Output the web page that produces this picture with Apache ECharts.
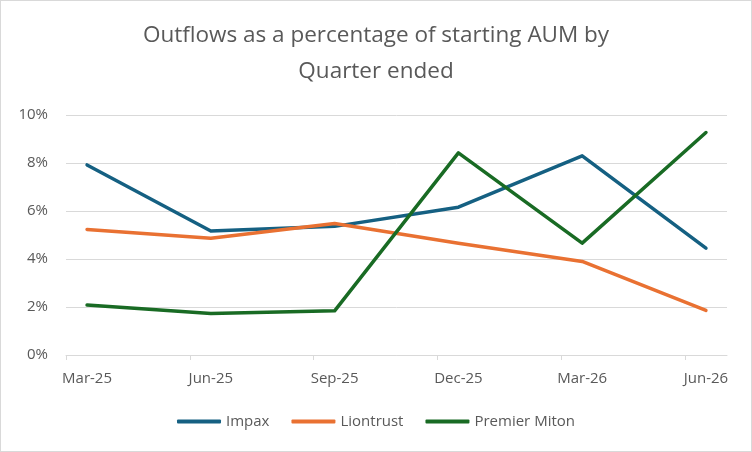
<!DOCTYPE html>
<html lang="en">

<head>
    <meta charset="utf-8">
    <title>Outflows as a percentage of starting AUM</title>
    <script type="text/javascript" src="https://cdn.jsdelivr.net/npm/echarts@6/dist/echarts.min.js"></script>
    <style>
        html, body { margin: 0; padding: 0; background: #fff; }
        #chart-container {
            width: 752px;
            height: 452px;
            box-sizing: border-box;
            border: 1px solid #d9d9d9;
        }
    </style>
</head>

<body>
    <div id="chart-container"></div>

    <script>
        // quarter labels and values (percent)
        const quarters = ['Mar-25', 'Jun-25', 'Sep-25', 'Dec-25', 'Mar-26', 'Jun-26'];
        const impax = [7.92, 5.17, 5.36, 6.16, 8.3, 4.45];
        const liontrust = [5.23, 4.86, 5.48, 4.66, 3.9, 1.86];
        const premierMiton = [2.08, 1.73, 1.84, 8.42, 4.66, 9.27];
        const yTicks = [0, 2, 4, 6, 8, 10];

        const Chart = echarts.init(document.getElementById('chart-container'));
        const font = '"Open Sans", "Noto Sans", sans-serif';
        const grey = '#595959';
        const gridGrey = '#d9d9d9';

        function toPoints(values) {
            return values.map(function (v, i) { return [i, v]; });
        }

        function lineSeries(name, values, color) {
            return {
                name: name,
                type: 'line',
                data: toPoints(values),
                symbol: 'none',
                lineStyle: { width: 3.5, color: color, cap: 'round', join: 'round' },
                itemStyle: { color: color }
            };
        }

        let option = {
            textStyle: { fontFamily: font },
            title: {
                text: 'Outflows as a percentage of starting AUM by\nQuarter ended',
                left: 'center',
                top: 12,
                textStyle: { fontSize: 22.5, fontWeight: 'normal', color: grey, lineHeight: 36, fontFamily: font }
            },
            grid: { left: 65, right: 24, top: 114, bottom: 96 },
            xAxis: {
                type: 'value',
                min: -0.17,
                max: 5.17,
                splitLine: { show: false },
                axisLine: { show: true, lineStyle: { color: gridGrey, width: 1 } },
                axisTick: {
                    show: true,
                    length: 5,
                    lineStyle: { color: gridGrey },
                    customValues: quarters.map(function (q, i) { return i - 0.17; })
                },
                axisLabel: {
                    color: grey,
                    fontSize: 15,
                    margin: 16,
                    customValues: quarters.map(function (q, i) { return i; }),
                    formatter: function (v) { return quarters[Math.round(v)]; }
                }
            },
            yAxis: {
                type: 'value',
                min: yTicks[0],
                max: yTicks[yTicks.length - 1],
                interval: 2,
                axisLine: { show: false },
                axisTick: { show: false },
                splitLine: { lineStyle: { color: gridGrey, width: 1 } },
                axisLabel: { color: grey, fontSize: 15, margin: 18, formatter: '{value}%' }
            },
            legend: {
                bottom: 17,
                left: 'center',
                itemWidth: 44,
                itemHeight: 4,
                itemGap: 22,
                icon: 'roundRect',
                textStyle: { color: grey, fontSize: 15, fontFamily: font },
                data: ['Impax', 'Liontrust', 'Premier Miton']
            },
            series: [
                lineSeries('Impax', impax, '#156082'),
                lineSeries('Liontrust', liontrust, '#E97132'),
                lineSeries('Premier Miton', premierMiton, '#196B24')
            ]
        };

        Chart.setOption(option);
    </script>
</body>

</html>
